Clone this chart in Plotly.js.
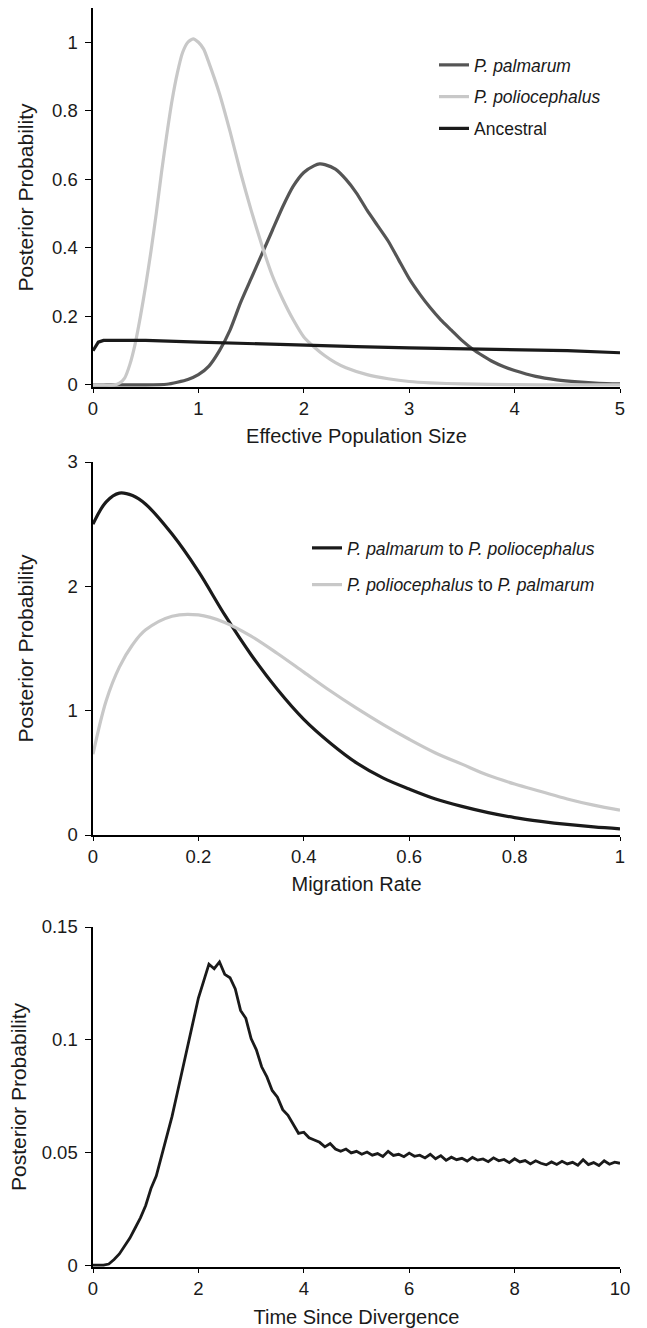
<!DOCTYPE html>
<html>
<head>
<meta charset="utf-8">
<script src="https://cdn.plot.ly/plotly-3.0.1.min.js"></script>
<style>html,body{margin:0;padding:0;background:#fff;}#chart{width:647px;height:1328px;}</style>
</head>
<body>
<div id="chart"></div>
<script>
// ---------- Panel 1: Effective Population Size ----------
const neX_palmarum = [0,0.25,0.5,0.7,0.8,0.9,1.0,1.1,1.2,1.3,1.4,1.5,1.6,1.7,1.8,1.9,2.0,2.1,2.15,2.2,2.3,2.4,2.5,2.6,2.7,2.8,2.9,3.0,3.1,3.2,3.3,3.4,3.5,3.6,3.7,3.8,3.9,4.0,4.2,4.4,4.6,4.8,5.0];
const neY_palmarum = [0,0,0,0.002,0.008,0.016,0.03,0.055,0.1,0.16,0.24,0.31,0.38,0.45,0.52,0.58,0.62,0.64,0.645,0.643,0.63,0.6,0.56,0.51,0.465,0.42,0.365,0.31,0.265,0.225,0.19,0.16,0.13,0.105,0.085,0.067,0.053,0.042,0.025,0.015,0.009,0.005,0.003];

const neX_poliocephalus = [0,0.1,0.2,0.25,0.3,0.35,0.4,0.45,0.5,0.55,0.6,0.65,0.7,0.75,0.8,0.85,0.9,0.95,1.0,1.05,1.1,1.2,1.3,1.4,1.5,1.6,1.7,1.8,1.9,2.0,2.1,2.2,2.3,2.4,2.6,2.8,3.0,3.2,3.5,4.0,4.5,5.0];
const neY_poliocephalus = [0,0,0,0.005,0.02,0.06,0.12,0.2,0.29,0.39,0.5,0.62,0.73,0.83,0.91,0.97,1.0,1.01,1.0,0.98,0.94,0.85,0.74,0.62,0.51,0.41,0.32,0.25,0.19,0.14,0.11,0.085,0.065,0.05,0.03,0.018,0.01,0.006,0.003,0.001,0,0];

const neX_ancestral = [0,0.02,0.05,0.1,0.3,0.5,1.0,1.5,2.0,2.5,3.0,3.5,4.0,4.5,5.0];
const neY_ancestral = [0.1,0.112,0.125,0.13,0.131,0.13,0.125,0.12,0.116,0.112,0.108,0.105,0.102,0.1,0.094];

const p1Ticks = [0,0.2,0.4,0.6,0.8,1];
const p1TickText = ["0","0.2","0.4","0.6","0.8","1"];

// ---------- Panel 2: Migration Rate ----------
const mX = [0,0.025,0.05,0.075,0.1,0.15,0.2,0.25,0.3,0.35,0.4,0.45,0.5,0.55,0.6,0.65,0.7,0.75,0.8,0.85,0.9,0.95,1.0];
const mY_palToPol = [2.5,2.68,2.75,2.73,2.66,2.42,2.12,1.77,1.45,1.17,0.93,0.74,0.58,0.46,0.37,0.29,0.23,0.18,0.14,0.11,0.085,0.065,0.05];
const mY_polToPal = [0.65,1.08,1.35,1.53,1.65,1.76,1.77,1.71,1.6,1.46,1.31,1.16,1.02,0.89,0.77,0.66,0.57,0.48,0.41,0.35,0.29,0.24,0.2];

// ---------- Panel 3: Time Since Divergence ----------
const tX = [0,0.1,0.2,0.3,0.4,0.5,0.6,0.7,0.8,0.9,1.0,1.1,1.2,1.3,1.4,1.5,1.6,1.7,1.8,1.9,2.0,2.1,2.2,2.3,2.4,2.5,2.6,2.7,2.8,2.9,3.0,3.1,3.2,3.3,3.4,3.5,3.6,3.7,3.8,3.9,4.0,4.1,4.2,4.3,4.4,4.5,4.6,4.7,4.8,4.9,5.0,5.1,5.2,5.3,5.4,5.5,5.6,5.7,5.8,5.9,6.0,6.1,6.2,6.3,6.4,6.5,6.6,6.7,6.8,6.9,7.0,7.1,7.2,7.3,7.4,7.5,7.6,7.7,7.8,7.9,8.0,8.1,8.2,8.3,8.4,8.5,8.6,8.7,8.8,8.9,9.0,9.1,9.2,9.3,9.4,9.5,9.6,9.7,9.8,9.9,10.0];
const tY = [0,0,0,0.0005,0.0025,0.005,0.0085,0.012,0.0165,0.021,0.0265,0.034,0.0395,0.048,0.0565,0.066,0.0765,0.087,0.0975,0.108,0.1185,0.126,0.1335,0.1315,0.1345,0.129,0.1275,0.1225,0.113,0.1095,0.1005,0.0955,0.088,0.0835,0.0775,0.0745,0.069,0.0665,0.0625,0.0585,0.059,0.0565,0.0555,0.0545,0.0525,0.054,0.0515,0.0505,0.0515,0.0498,0.0505,0.0492,0.0502,0.0488,0.0495,0.0482,0.0505,0.0487,0.0492,0.0481,0.0497,0.0483,0.0488,0.0476,0.0492,0.0472,0.0486,0.0465,0.0479,0.0468,0.0474,0.0462,0.0478,0.0466,0.0471,0.0459,0.0476,0.0463,0.0469,0.0455,0.0472,0.0458,0.0464,0.0449,0.0463,0.0452,0.0445,0.0458,0.0447,0.0461,0.0449,0.0456,0.0443,0.0468,0.0446,0.0455,0.0442,0.0463,0.0448,0.0457,0.0452];

const p3Ticks = [0,0.05,0.1,0.15];
const p3TickText = ["0","0.05","0.1","0.15"];

// ---------- styling ----------
const FONT = "Liberation Sans, Arial, Helvetica, sans-serif";
const C_DARK = "#555555", C_LIGHT = "#c8c8c8", C_BLACK = "#1a1a1a";
const W = 647, H = 1328;
const px = v => v / W;
const py = v => 1 - v / H;

const traces = [
  {x: neX_palmarum, y: neY_palmarum, name: "<i>P. palmarum</i>", type: "scatter", mode: "lines",
   line: {color: C_DARK, width: 3.2, shape: "spline", smoothing: 0.6}, xaxis: "x", yaxis: "y", legend: "legend", legendgroup: "a"},
  {x: neX_poliocephalus, y: neY_poliocephalus, name: "<i>P. poliocephalus</i>", type: "scatter", mode: "lines",
   line: {color: C_LIGHT, width: 3.2, shape: "spline", smoothing: 0.6}, xaxis: "x", yaxis: "y", legend: "legend", legendgroup: "b"},
  {x: neX_ancestral, y: neY_ancestral, name: "Ancestral", type: "scatter", mode: "lines",
   line: {color: C_BLACK, width: 3.2}, xaxis: "x", yaxis: "y", legend: "legend", legendgroup: "c"},
  {x: mX, y: mY_palToPol, name: "<i>P. palmarum</i> to <i>P. poliocephalus</i>", type: "scatter", mode: "lines",
   line: {color: C_BLACK, width: 3.2, shape: "spline"}, xaxis: "x2", yaxis: "y2", legend: "legend2", legendgroup: "d"},
  {x: mX, y: mY_polToPal, name: "<i>P. poliocephalus</i> to <i>P. palmarum</i>", type: "scatter", mode: "lines",
   line: {color: C_LIGHT, width: 3.2, shape: "spline"}, xaxis: "x2", yaxis: "y2", legend: "legend2", legendgroup: "e"},
  {x: tX, y: tY, name: "Time", type: "scatter", mode: "lines", showlegend: false,
   line: {color: C_BLACK, width: 2.8}, xaxis: "x3", yaxis: "y3"}
];

const tickFont = {family: FONT, size: 18.5, color: "#1a1a1a"};
const titleFont = {family: FONT, size: 20, color: "#1a1a1a"};
const yTitleFont = {family: FONT, size: 21, color: "#1a1a1a"};

function xax(range, dtick, title, anchor, standoff) {
  return {
    domain: [px(93), px(620)], range: range, dtick: dtick, tick0: 0,
    showline: true, linecolor: "#000", linewidth: 1.6, mirror: false,
    ticks: "outside", ticklen: 4, tickwidth: 1, tickcolor: "#000",
    showgrid: false, zeroline: false, tickfont: tickFont, anchor: anchor,
    title: {text: title, font: titleFont, standoff: standoff}, fixedrange: true
  };
}
function yax(dom, range, tickvals, ticktext, anchor, standoff) {
  return {
    domain: dom, range: range, tickvals: tickvals, ticktext: ticktext,
    showline: true, linecolor: "#000", linewidth: 1.6,
    ticks: "outside", ticklen: 6, tickwidth: 1, tickcolor: "#000", ticklabelstandoff: 4,
    showgrid: false, zeroline: false, tickfont: tickFont, anchor: anchor,
    title: {text: "Posterior Probability", font: yTitleFont, standoff: standoff}, fixedrange: true
  };
}

const layout = {
  width: W, height: H,
  margin: {l: 0, r: 0, t: 0, b: 0, pad: 0},
  paper_bgcolor: "#fff", plot_bgcolor: "#fff",
  font: {family: FONT, color: "#1a1a1a"},
  xaxis: xax([0, 5], 1, "Effective Population Size", "y", 11),
  yaxis: yax([py(387), py(8)], [-0.006, 1.1], p1Ticks, p1TickText, "x", 12),
  xaxis2: xax([0, 1], 0.2, "Migration Rate", "y2", 11),
  yaxis2: yax([py(835), py(462)], [0, 3], [0,1,2,3], ["0","1","2","3"], "x2", 28),
  xaxis3: xax([0, 10], 2, "Time Since Divergence", "y3", 13),
  yaxis3: yax([py(1267), py(927)], [-0.0008, 0.15], p3Ticks, p3TickText, "x3", 9),
  legend: {x: px(434), y: py(47), xanchor: "left", yanchor: "top", bgcolor: "rgba(0,0,0,0)",
           font: {family: FONT, size: 17.5, color: "#1a1a1a"}, traceorder: "grouped", tracegroupgap: 6},
  legend2: {x: px(307), y: py(530), xanchor: "left", yanchor: "top", bgcolor: "rgba(0,0,0,0)",
            font: {family: FONT, size: 17.5, color: "#1a1a1a"}, traceorder: "grouped", tracegroupgap: 11},
  showlegend: true
};

Plotly.newPlot("chart", traces, layout, {staticPlot: true, displayModeBar: false});
</script>
</body>
</html>
